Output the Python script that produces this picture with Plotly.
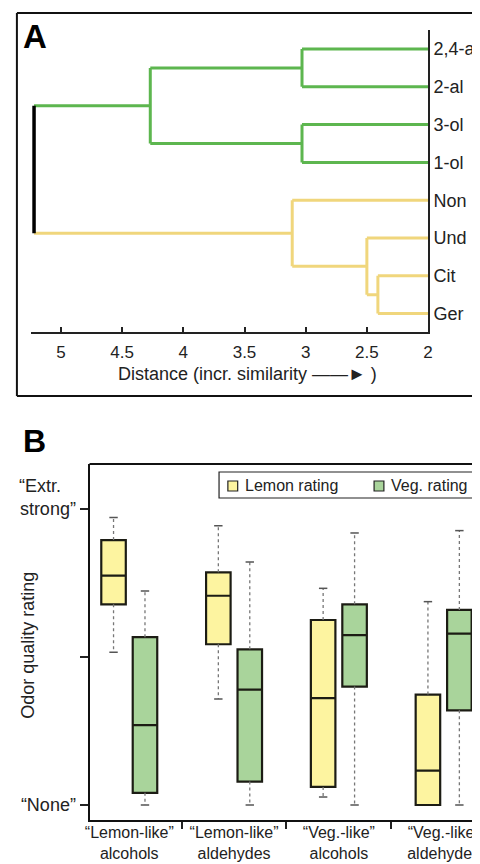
import plotly.graph_objects as go

# ---------------- Data ----------------
# Panel A: dendrogram
leaf_names = ["2,4-al", "2-al", "3-ol", "1-ol", "Non", "Und", "Cit", "Ger"]
# merges: (child_a, child_b, distance); leaves are 0..7, new nodes 8..14
merge_a = [0, 2, 8, 6, 5, 4, 10]
merge_b = [1, 3, 9, 7, 11, 12, 13]
merge_dist = [3.03, 3.03, 4.27, 2.41, 2.50, 3.11, 5.22]
dist_ticks = [5, 4.5, 4, 3.5, 3, 2.5, 2]
dist_ticktext = ["5", "4.5", "4", "3.5", "3", "2.5", "2"]

# Panel B: box plots (precomputed statistics, rating scale 0 = "None" .. 10 = "Extr. strong")
groups = ["“Lemon-like”<br>alcohols", "“Lemon-like”<br>aldehydes",
          "“Veg.-like”<br>alcohols", "“Veg.-like”<br>aldehydes"]
lemon_low = [5.16, 3.58, 0.27, 0.0]
lemon_q1 = [6.78, 5.43, 0.61, 0.0]
lemon_med = [7.75, 7.07, 3.61, 1.16]
lemon_q3 = [8.95, 7.86, 6.25, 3.73]
lemon_high = [9.71, 9.43, 7.32, 6.87]
veg_low = [0.0, 0.0, 0.0, 0.0]
veg_q1 = [0.41, 0.79, 4.00, 3.20]
veg_med = [2.70, 3.90, 5.74, 5.79]
veg_q3 = [5.67, 5.26, 6.78, 6.59]
veg_high = [7.23, 8.21, 9.19, 9.27]
rating_ticks = [0, 5, 10]
rating_ticktext = ["“None”", "", "“Extr.\u00a0\u00a0\u00a0<br>strong”<br>\u00a0"]

# ---------------- Helpers ----------------
W, H = 480, 864
OFF = 8  # page body margin: figure is drawn at (8, 8) in the window
def PX(x):
    return (x - OFF) / W
def PY(y):
    return 1 - (y - OFF) / H

GREEN = "#5db64f"
YELLOW = "#f0d67c"
FONT = "Liberation Sans, Arial, sans-serif"

fig = go.Figure()

# ---------------- Panel A: dendrogram ----------------
n_leaves = len(leaf_names)
ypos = {i: n_leaves - i for i in range(n_leaves)}
xpos = {i: 2.0 for i in range(n_leaves)}
children = {}
for k, (a, b, d) in enumerate(zip(merge_a, merge_b, merge_dist)):
    node = n_leaves + k
    ypos[node] = (ypos[a] + ypos[b]) / 2
    xpos[node] = d
    children[node] = (a, b)

root = n_leaves + len(merge_dist) - 1
color_of = {}
def assign(node, col):
    color_of[node] = col
    if node in children:
        for c in children[node]:
            assign(c, col)
ra, rb = children[root]
assign(ra, GREEN)
assign(rb, YELLOW)
color_of[root] = "black"

segs = {GREEN: ([], []), YELLOW: ([], []), "black": ([], [])}
for node, (a, b) in children.items():
    col = color_of[node]
    xs, ys = segs[col]
    xs += [xpos[node], xpos[node], None]
    ys += [ypos[a], ypos[b], None]
    for c in (a, b):
        cx, cy = segs[color_of[c]]
        cx += [xpos[c], xpos[node], None]
        cy += [ypos[c], ypos[c], None]

for col, (xs, ys) in segs.items():
    fig.add_trace(go.Scatter(x=xs, y=ys, mode="lines",
                             line=dict(color=col, width=3.5 if col == "black" else 3),
                             hoverinfo="skip", showlegend=False,
                             xaxis="x", yaxis="y"))

# ---------------- Panel B: box plots ----------------
offset = 0.15
bw = 0.234
def add_boxes(centers, low, q1, med, q3, high, fill):
    wx, wy, cx, cy = [], [], [], []
    for p, lo, a, m, b, hi in zip(centers, low, q1, med, q3, high):
        if hi > b:
            wx += [p, p, None]; wy += [b, hi, None]
            cx.append(p); cy.append(hi)
        if lo < a:
            wx += [p, p, None]; wy += [a, lo, None]
            cx.append(p); cy.append(lo)
    fig.add_trace(go.Scatter(x=wx, y=wy, mode="lines",
                             line=dict(color="#777777", width=1.3, dash="dot"),
                             hoverinfo="skip", showlegend=False, xaxis="x2", yaxis="y2"))
    fig.add_trace(go.Scatter(x=cx, y=cy, mode="markers",
                             marker=dict(symbol="line-ew", size=6,
                                         line=dict(color="#555555", width=1.5)),
                             hoverinfo="skip", showlegend=False, xaxis="x2", yaxis="y2"))
    fig.add_trace(go.Box(x=centers, q1=q1, median=med, q3=q3,
                         lowerfence=q1, upperfence=q3, width=bw,
                         fillcolor=fill, line=dict(color="#1c1c14", width=2.2),
                         whiskerwidth=0, boxpoints=False, showlegend=False,
                         xaxis="x2", yaxis="y2"))

gpos = [1, 2, 3, 4]
add_boxes([g - offset for g in gpos], lemon_low, lemon_q1, lemon_med, lemon_q3, lemon_high, "#fdf4a0")
add_boxes([g + offset for g in gpos], veg_low, veg_q1, veg_med, veg_q3, veg_high, "#a9d49b")

# invisible trace so the category-label axis is drawn
fig.add_trace(go.Scatter(x=gpos, y=[None] * len(gpos), mode="markers",
                         hoverinfo="skip", showlegend=False, xaxis="x3", yaxis="y2"))

# ---------------- Layout ----------------
shapes = []
# panel A frame (left, top, bottom)
for (x0, y0, x1, y1) in [(13, 13, 13, 396), (13, 13, 500, 13), (13, 396, 500, 396)]:
    shapes.append(dict(type="line", xref="paper", yref="paper",
                       x0=PX(x0), y0=PY(y0), x1=PX(x1), y1=PY(y1),
                       line=dict(color="#111111", width=2)))
# panel B top frame line
shapes.append(dict(type="line", xref="paper", yref="paper",
                   x0=PX(87), y0=PY(464), x1=1, y1=PY(464),
                   line=dict(color="#111111", width=2)))
# custom legend
shapes.append(dict(type="rect", xref="paper", yref="paper",
                   x0=PX(219), y0=PY(472), x1=PX(479.5), y1=PY(498),
                   line=dict(color="#222222", width=1.2), fillcolor="white"))
shapes.append(dict(type="rect", xref="paper", yref="paper",
                   x0=PX(228), y0=PY(481), x1=PX(238), y1=PY(491),
                   line=dict(color="#222222", width=1.2), fillcolor="#fdf4a0"))
shapes.append(dict(type="rect", xref="paper", yref="paper",
                   x0=PX(377), y0=PY(481), x1=PX(387), y1=PY(491),
                   line=dict(color="#222222", width=1.2), fillcolor="#a9d49b"))

annotations = [
    dict(text="<b>A</b>", x=PX(31), y=PY(36), xref="paper", yref="paper",
         xanchor="center", yanchor="middle",
         showarrow=False, font=dict(size=33, color="black", family=FONT)),
    dict(text="<b>B</b>", x=PX(31), y=PY(441), xref="paper", yref="paper",
         xanchor="center", yanchor="middle",
         showarrow=False, font=dict(size=32, color="black", family=FONT)),
    dict(text="Distance (incr. similarity ——► )", x=PX(248), y=PY(374),
         xref="paper", yref="paper", showarrow=False,
         xanchor="center", yanchor="middle",
         font=dict(size=18, color="#222222", family=FONT)),
    dict(text="Odor quality rating", x=PX(24), y=PY(645), xref="paper", yref="paper",
         xanchor="center", yanchor="middle",
         showarrow=False, textangle=-90,
         font=dict(size=18, color="#222222", family=FONT)),
    dict(text="Lemon rating", x=PX(243), y=PY(486), xref="paper", yref="paper",
         xanchor="left", yanchor="middle", showarrow=False,
         font=dict(size=16, color="#222222", family=FONT)),
    dict(text="Veg. rating", x=PX(392), y=PY(486), xref="paper", yref="paper",
         xanchor="left", yanchor="middle", showarrow=False,
         font=dict(size=16, color="#222222", family=FONT)),
]

x_lo = 2 + (432 - 27) / 124.7
y_lo = 1 - (332 - 313.6) / 37.8
y_hi = 1 + (313.6 - 30) / 37.8

right_win = OFF + W  # window x of figure's right edge
bx_lo = 1 - (127.5 - 87) / 106.8
bx_hi = 1 + (right_win - 127.5) / 106.8
by_lo = (805 - 820) / 29.6
by_hi = (805 - 464) / 29.6

fig.update_layout(
    width=W, height=H,
    margin=dict(l=0, r=0, t=0, b=0),
    paper_bgcolor="white", plot_bgcolor="white",
    font=dict(family=FONT, color="#222222"),
    showlegend=False,
    shapes=shapes, annotations=annotations,
    xaxis=dict(domain=[PX(27), PX(432)], range=[x_lo, 2], anchor="y",
               tickvals=dist_ticks, ticktext=dist_ticktext,
               ticks="inside", ticklen=5, tickwidth=1.5, tickcolor="#222222",
               ticklabelstandoff=4,
               showline=True, linecolor="#222222", linewidth=1.5,
               showgrid=False, zeroline=False, tickfont=dict(size=17)),
    yaxis=dict(domain=[PY(332), PY(30)], range=[y_lo, y_hi], anchor="x",
               side="right", tickvals=list(range(n_leaves, 0, -1)), ticktext=leaf_names,
               ticks="", showline=True, linecolor="#222222", linewidth=1.5,
               showgrid=False, zeroline=False, tickfont=dict(size=18)),
    xaxis2=dict(domain=[PX(87), 1], range=[bx_lo, bx_hi], anchor="y2",
                tickvals=[1.5, 2.5, 3.5], showticklabels=False,
                ticks="outside", ticklen=7, tickwidth=1.5, tickcolor="#222222",
                showline=True, linecolor="#111111", linewidth=2,
                showgrid=False, zeroline=False),
    xaxis3=dict(domain=[PX(87), 1], range=[bx_lo, bx_hi], anchor="y2", overlaying="x2",
                side="bottom", tickvals=gpos, ticktext=groups, ticks="",
                ticklabelstandoff=1,
                showline=False, showgrid=False, zeroline=False,
                tickfont=dict(size=16)),
    yaxis2=dict(domain=[PY(820), PY(464)], range=[by_lo, by_hi], anchor="x2",
                tickvals=rating_ticks, ticktext=rating_ticktext,
                ticks="outside", ticklen=8, tickwidth=1.5, tickcolor="#222222",
                showline=True, linecolor="#111111", linewidth=2,
                showgrid=False, zeroline=False, tickfont=dict(size=18)),
)

fig.write_html("out.html")
